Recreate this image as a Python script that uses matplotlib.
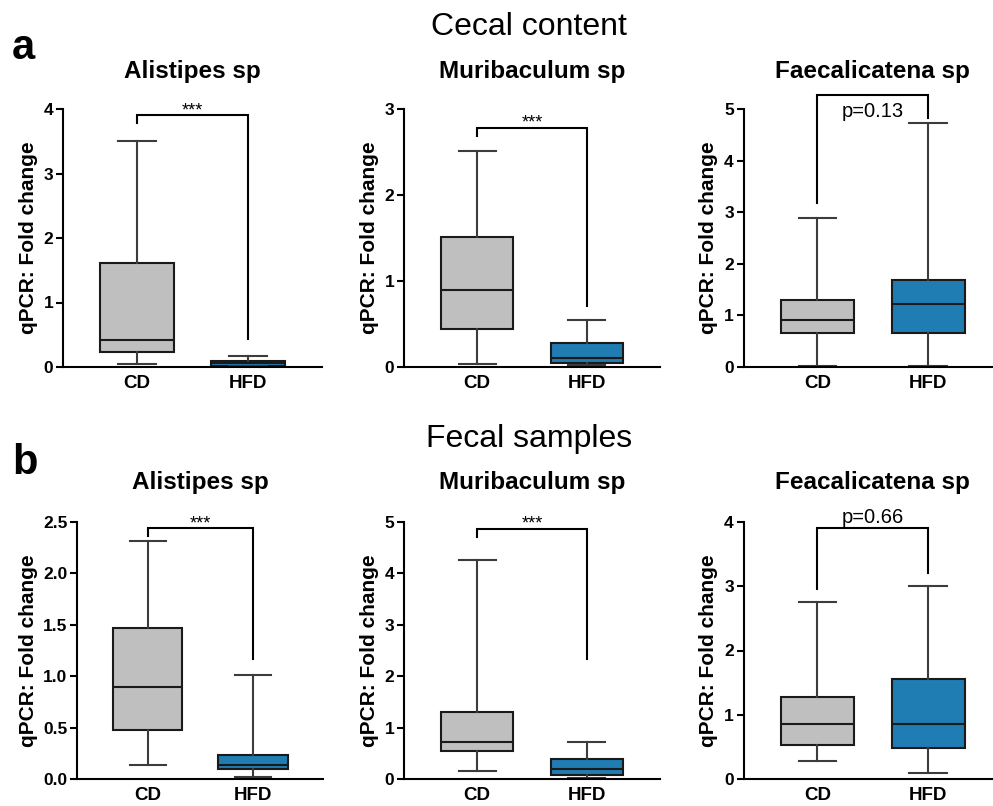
import matplotlib
matplotlib.use("Agg")
import matplotlib.pyplot as plt

plt.rcParams['font.family'] = ['Liberation Sans', 'DejaVu Sans']

groups = ["CD", "HFD"]

# five-number summaries: [whisker low, Q1, median, Q3, whisker high]
cecal_alistipes_cd = [0.04, 0.23, 0.42, 1.62, 3.50]
cecal_alistipes_hfd = [0.01, 0.02, 0.06, 0.10, 0.17]
cecal_muribaculum_cd = [0.04, 0.44, 0.89, 1.51, 2.51]
cecal_muribaculum_hfd = [0.02, 0.05, 0.11, 0.28, 0.55]
cecal_faecalicatena_cd = [0.01, 0.66, 0.92, 1.30, 2.89]
cecal_faecalicatena_hfd = [0.02, 0.66, 1.22, 1.68, 4.73]

fecal_alistipes_cd = [0.14, 0.48, 0.895, 1.47, 2.32]
fecal_alistipes_hfd = [0.02, 0.10, 0.14, 0.23, 1.01]
fecal_muribaculum_cd = [0.16, 0.55, 0.72, 1.30, 4.27]
fecal_muribaculum_hfd = [0.01, 0.07, 0.19, 0.39, 0.72]
fecal_feacalicatena_cd = [0.28, 0.53, 0.85, 1.28, 2.75]
fecal_feacalicatena_hfd = [0.09, 0.49, 0.86, 1.55, 3.01]

titles_cecal = ["Alistipes sp", "Muribaculum sp", "Faecalicatena sp"]
titles_fecal = ["Alistipes sp", "Muribaculum sp", "Feacalicatena sp"]

ylims_cecal = [4, 3, 5]
ylims_fecal = [2.5, 5, 4]
yticks_cecal = [[0, 1, 2, 3, 4], [0, 1, 2, 3], [0, 1, 2, 3, 4, 5]]
yticks_fecal = [[0.0, 0.5, 1.0, 1.5, 2.0, 2.5], [0, 1, 2, 3, 4, 5], [0, 1, 2, 3, 4]]
ytick_fmt_fecal = ["{:.1f}", "{:g}", "{:g}"]

# brackets: [top, left leg bottom, right leg bottom]
brackets_cecal = [[3.9, 3.78, 0.44], [2.78, 2.69, 0.71], [5.28, 3.17, 4.82]]
brackets_fecal = [[2.44, 2.36, 1.17], [4.87, 4.71, 2.33], [3.91, 2.96, 3.21]]
labels_cecal = ["***", "***", "p=0.13"]
labels_fecal = ["***", "***", "p=0.66"]
# label baseline (data units); None -> on bracket top
label_y_cecal = [None, None, 4.84]
label_y_fecal = [None, None, 3.99]

cd_color = "#bfbfbf"
hfd_color = "#1f7db3"

fig = plt.figure(figsize=(9.93, 8.06), dpi=100)

W = 993.0
H = 806.0
top_row = (1 - 367 / H, (367 - 109) / H)
bot_row = (1 - 779 / H, (779 - 522) / H)
cols_top = [(63 / W, 259 / W), (404 / W, 256 / W), (743.5 / W, 258.5 / W)]
cols_bot = [(77.3 / W, 246 / W), (404 / W, 256 / W), (743.5 / W, 258.5 / W)]


def draw_panel(ax, cd, hfd, title, ymax, yticks, fmt, br, lab, laby, title_pad):
    stats = []
    for name, s in zip(groups, [cd, hfd]):
        stats.append(dict(label=name, whislo=s[0], q1=s[1], med=s[2], q3=s[3],
                          whishi=s[4], fliers=[]))
    bp = ax.bxp(stats, positions=[0, 1], widths=0.66, patch_artist=True,
                showfliers=False, capwidths=0.34,
                boxprops=dict(linewidth=1.5, edgecolor="#1a1a1a"),
                medianprops=dict(color="#1a1a1a", linewidth=1.5),
                whiskerprops=dict(color="#3c3c3c", linewidth=1.5),
                capprops=dict(color="#3c3c3c", linewidth=1.5))
    for patch, c in zip(bp['boxes'], [cd_color, hfd_color]):
        patch.set_facecolor(c)
    ax.set_xlim(-0.667, 1.667)
    ax.set_ylim(0, ymax)
    ax.set_yticks(yticks)
    ax.set_yticklabels([fmt.format(v) for v in yticks], fontsize=12.5,
                       fontweight='bold')
    ax.set_xticks([0, 1])
    ax.set_xticklabels(groups, fontsize=13.5, fontweight='bold')
    ax.tick_params(axis='x', length=0, pad=6)
    ax.tick_params(axis='y', length=5, width=1.5, pad=2)
    for s in ['top', 'right']:
        ax.spines[s].set_visible(False)
    for s in ['left', 'bottom']:
        ax.spines[s].set_linewidth(1.5)
    ax.set_ylabel("qPCR: Fold change", fontsize=15, fontweight='bold',
                  labelpad=4)
    ax.set_title(title, fontsize=17.5, fontweight='bold', pad=title_pad)
    top, lb, rb = br
    ax.plot([0, 0, 1, 1], [lb, top, top, rb], color='black', linewidth=1.5,
            clip_on=False, solid_joinstyle='miter')
    if laby is None:
        ax.text(0.5, top, lab, ha='center', va='baseline', fontsize=13,
                clip_on=False)
    else:
        ax.text(0.5, laby, lab, ha='center', va='baseline', fontsize=14.5,
                clip_on=False)


cecal = [(cecal_alistipes_cd, cecal_alistipes_hfd),
         (cecal_muribaculum_cd, cecal_muribaculum_hfd),
         (cecal_faecalicatena_cd, cecal_faecalicatena_hfd)]
fecal = [(fecal_alistipes_cd, fecal_alistipes_hfd),
         (fecal_muribaculum_cd, fecal_muribaculum_hfd),
         (fecal_feacalicatena_cd, fecal_feacalicatena_hfd)]

for i in range(3):
    l, w = cols_top[i]
    ax = fig.add_axes([l, top_row[0], w, top_row[1]])
    draw_panel(ax, cecal[i][0], cecal[i][1], titles_cecal[i], ylims_cecal[i],
               yticks_cecal[i], "{:g}", brackets_cecal[i], labels_cecal[i],
               label_y_cecal[i], 22)
for i in range(3):
    l, w = cols_bot[i]
    ax = fig.add_axes([l, bot_row[0], w, bot_row[1]])
    draw_panel(ax, fecal[i][0], fecal[i][1], titles_fecal[i], ylims_fecal[i],
               yticks_fecal[i], ytick_fmt_fecal[i], brackets_fecal[i],
               labels_fecal[i], label_y_fecal[i], 24)

fig.text(529 / W, 1 - 35 / H, "Cecal content", ha='center', va='baseline',
         fontsize=23)
fig.text(529 / W, 1 - 447 / H, "Fecal samples", ha='center', va='baseline',
         fontsize=23)
fig.text(12 / W, 1 - 59 / H, "a", ha='left', va='baseline', fontsize=30,
         fontweight='bold')
fig.text(12 / W, 1 - 474 / H, "b", ha='left', va='baseline', fontsize=30,
         fontweight='bold')

fig.savefig("out.png", dpi=100)
